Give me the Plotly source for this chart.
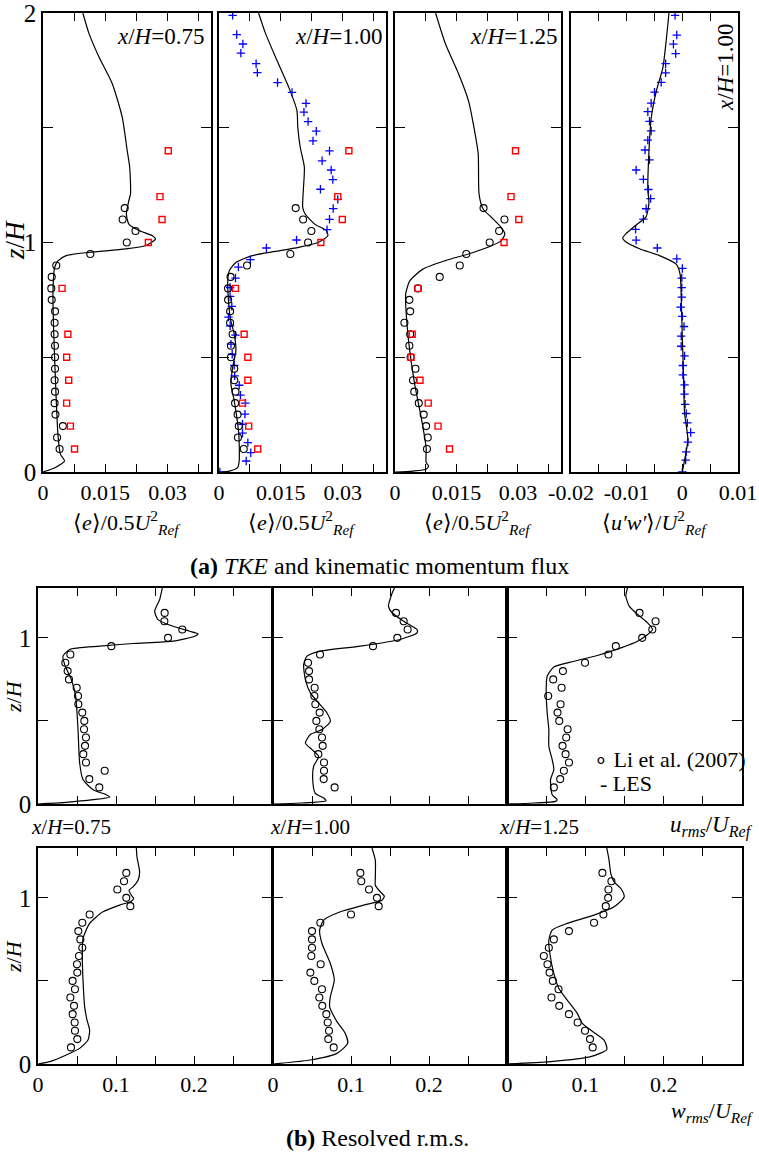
import plotly.graph_objects as go

FONT = "Liberation Serif"

# ---------------- (a) TKE panels: z/H values ----------------
z_circ = [0.10, 0.15, 0.20, 0.25, 0.30, 0.35, 0.40, 0.45, 0.50, 0.55, 0.60,
          0.65, 0.70, 0.75, 0.80, 0.85, 0.90, 0.95, 1.00, 1.05, 1.10, 1.15]
z_sq = [0.10, 0.20, 0.30, 0.40, 0.50, 0.60, 0.80, 1.00, 1.10, 1.20, 1.40]

# x/H = 0.75
tke075_circ = [0.0040, 0.0034, 0.0048, 0.0030, 0.0028, 0.0029, 0.0028, 0.0029, 0.0029, 0.0029, 0.0028,
               0.0028, 0.0029, 0.0021, 0.0020, 0.0021, 0.0032, 0.0114, 0.0202, 0.0223, 0.0192, 0.0197]
tke075_sq = [0.0076, 0.0066, 0.0057, 0.0062, 0.0057, 0.0060, 0.0046, 0.0254, 0.0287, 0.0282, 0.0302]
tke075_les_z = [0.0, 0.02, 0.048, 0.077, 0.164, 0.31, 0.6, 0.775, 0.89, 0.92, 0.943, 0.957, 0.972,
                0.986, 1.015, 1.03, 1.052, 1.08, 1.124, 1.183, 1.212, 1.328, 1.40, 1.546, 1.692,
                1.808, 1.91, 2.0]
tke075_les = [0.0, 0.0030, 0.0052, 0.0042, 0.0036, 0.0032, 0.0026, 0.0024, 0.0028, 0.0036, 0.0056,
              0.0111, 0.0199, 0.0247, 0.0271, 0.0263, 0.0231, 0.0207, 0.0201, 0.0207, 0.0211,
              0.0209, 0.0203, 0.0191, 0.0167, 0.0135, 0.0111, 0.0096]

# x/H = 1.00
tke100_circ = [0.0060, 0.0046, 0.0048, 0.0045, 0.0039, 0.0040, 0.0037, 0.0037, 0.0029, 0.0029, 0.0033,
               0.0027, 0.0027, 0.0022, 0.0022, 0.0028, 0.0068, 0.0173, 0.0216, 0.0224, 0.0204, 0.0186]
tke100_sq = [0.0094, 0.0072, 0.0057, 0.0070, 0.0070, 0.0061, 0.0040, 0.0247, 0.0299, 0.0288, 0.0315]
tke100_cross_z = [0.0, 0.048, 0.084, 0.128, 0.169, 0.208, 0.252, 0.300, 0.335, 0.378, 0.419, 0.465,
                  0.513, 0.557, 0.596, 0.637, 0.675, 0.722, 0.765, 0.804, 0.845, 0.893, 0.925,
                  0.976, 1.011, 1.056, 1.101, 1.148, 1.188, 1.232, 1.274, 1.316, 1.356, 1.399,
                  1.443, 1.485, 1.527, 1.568, 1.606, 1.654, 1.697, 1.740, 1.779, 1.825, 1.865,
                  1.906, 1.990]
tke100_cross = [0.0002, 0.0066, 0.0077, 0.0070, 0.0057, 0.0057, 0.0063, 0.0064, 0.0052, 0.0049,
                0.0038, 0.0037, 0.0032, 0.0029, 0.0040, 0.0027, 0.0023, 0.0031, 0.0027, 0.0027,
                0.0040, 0.0047, 0.0076, 0.0115, 0.0188, 0.0262, 0.0268, 0.0277, 0.0288, 0.0246,
                0.0276, 0.0272, 0.0250, 0.0268, 0.0228, 0.0236, 0.0216, 0.0206, 0.0211, 0.0177,
                0.0142, 0.0093, 0.0090, 0.0053, 0.0058, 0.0043, 0.0033]
tke100_les_z = [0.0, 0.004, 0.019, 0.048, 0.164, 0.31, 0.382, 0.455, 0.528, 0.6, 0.673, 0.819,
                0.877, 0.913, 0.943, 0.961, 0.979, 1.0, 1.03, 1.052, 1.08, 1.124, 1.153, 1.328,
                1.415, 1.503, 1.575, 1.677, 1.808, 1.91, 2.0]
tke100_les = [0.0, 0.0025, 0.0045, 0.0049, 0.0048, 0.0037, 0.0029, 0.0033, 0.0041, 0.0037, 0.0027,
              0.0021, 0.0025, 0.0041, 0.0081, 0.0137, 0.0193, 0.0240, 0.0264, 0.0260, 0.0232,
              0.0209, 0.0203, 0.0207, 0.0197, 0.0191, 0.0189, 0.0169, 0.0137, 0.0113, 0.0096]

# x/H = 1.25
tke125_circ = [0.0078, 0.0080, 0.0076, 0.0070, 0.0058, 0.0047, 0.0044, 0.0050, 0.0038, 0.0035, 0.0037,
               0.0023, 0.0037, 0.0035, 0.0056, 0.0109, 0.0158, 0.0174, 0.0231, 0.0254, 0.0267, 0.0216]
tke125_sq = [0.0133, 0.0105, 0.0081, 0.0061, 0.0039, 0.0042, 0.0056, 0.0266, 0.0302, 0.0283, 0.0294]
tke125_les_z = [0.0, 0.004, 0.012, 0.026, 0.041, 0.106, 0.237, 0.383, 0.528, 0.673, 0.775, 0.833,
                0.884, 0.921, 0.95, 0.979, 1.008, 1.037, 1.066, 1.11, 1.146, 1.212, 1.386, 1.517,
                1.619, 1.735, 1.866, 2.0]
tke125_les = [0.0, 0.0044, 0.0076, 0.0082, 0.0076, 0.0076, 0.0064, 0.0048, 0.0036, 0.0028, 0.0026,
              0.0036, 0.0068, 0.0123, 0.0179, 0.0227, 0.0259, 0.0268, 0.0259, 0.0235, 0.0215,
              0.0205, 0.0203, 0.0191, 0.0179, 0.0155, 0.0123, 0.0099]

# <u'w'> at x/H = 1.00
uw_cross_z = [0.0, 0.052, 0.088, 0.130, 0.172, 0.214, 0.255, 0.295, 0.339, 0.380, 0.423, 0.464,
              0.506, 0.548, 0.592, 0.634, 0.678, 0.718, 0.762, 0.803, 0.845, 0.887, 0.929, 0.976,
              1.010, 1.057, 1.102, 1.147, 1.191, 1.231, 1.275, 1.316, 1.360, 1.403, 1.446, 1.486,
              1.528, 1.570, 1.607, 1.655, 1.698, 1.739, 1.779, 1.823, 1.864, 1.904, 1.990]
uw_cross = [0.0, 0.0006, 0.0007, 0.0010, 0.0015, 0.0009, 0.0007, 0.0005, 0.0004, 0.0004, 0.0001,
            0.0001, 0.0004, -0.0002, -0.0002, 0.0003, 0.0, -0.0003, -0.0001, -0.0001, -0.0001,
            0.0, -0.0010, -0.0045, -0.0083, -0.0084, -0.0070, -0.0065, -0.0057, -0.0061,
            -0.0070, -0.0083, -0.0059, -0.0067, -0.0062, -0.0056, -0.0059, -0.0062, -0.0056,
            -0.0050, -0.0038, -0.0030, -0.0030, -0.0012, -0.0016, -0.0010, -0.0013]
uw_les_z = [0.0, 0.052, 0.14, 0.258, 0.435, 0.582, 0.759, 0.862, 0.906, 0.943, 0.973, 1.002, 1.02,
            1.039, 1.076, 1.113, 1.172, 1.231, 1.393, 1.540, 1.658, 1.761, 1.879, 2.0]
uw_les = [0.0, 0.0004, 0.0010, 0.0004, 0.0002, 0.0, -0.0002, -0.0004, -0.0011, -0.0041, -0.0077,
          -0.0101, -0.0107, -0.0101, -0.0083, -0.0065, -0.0060, -0.0062, -0.0060, -0.0056,
          -0.0047, -0.0035, -0.0029, -0.0024]

# ---------------- (b) resolved r.m.s. ----------------
z_rms = [0.10, 0.15, 0.20, 0.25, 0.30, 0.35, 0.40, 0.45, 0.50, 0.55, 0.60,
         0.65, 0.70, 0.75, 0.80, 0.85, 0.90, 0.95, 1.00, 1.05, 1.10, 1.15]

urms075_exp = [0.0786, 0.0658, 0.0855, 0.0615, 0.0581, 0.0603, 0.0615, 0.0590, 0.0594, 0.0568, 0.0517,
               0.0513, 0.0496, 0.0397, 0.0380, 0.0350, 0.0415, 0.0940, 0.1667, 0.1850, 0.1620, 0.1624]
urms075_les_z = [0.0, 0.01, 0.026, 0.042, 0.056, 0.086, 0.147, 0.247, 0.448, 0.649, 0.749, 0.839,
                 0.890, 0.930, 0.95, 0.966, 0.980, 1.010, 1.024, 1.040, 1.070, 1.110, 1.161, 1.231, 1.30]
urms075_les = [0.0, 0.036, 0.0705, 0.092, 0.0876, 0.0705, 0.0577, 0.0534, 0.0513, 0.0483, 0.0427,
               0.0342, 0.0320, 0.0406, 0.0791, 0.1218, 0.1730, 0.2009, 0.2051, 0.1944, 0.1730,
               0.1538, 0.1496, 0.1560, 0.1594]

urms100_exp = [0.0790, 0.0650, 0.0654, 0.0654, 0.0581, 0.0637, 0.0628, 0.0594, 0.0556, 0.0598, 0.0543,
               0.0530, 0.0534, 0.0462, 0.0462, 0.0449, 0.0603, 0.1282, 0.1594, 0.1726, 0.1675, 0.1577]
urms100_les_z = [0.0, 0.006, 0.02, 0.036, 0.066, 0.147, 0.227, 0.287, 0.327, 0.367, 0.418, 0.448,
                 0.498, 0.548, 0.608, 0.669, 0.749, 0.839, 0.890, 0.920, 0.950, 0.990, 1.030, 1.050,
                 1.10, 1.151, 1.191, 1.231, 1.291, 1.30]
urms100_les = [0.0, 0.035, 0.068, 0.065, 0.054, 0.0509, 0.0521, 0.0585, 0.0500, 0.0415, 0.0479,
               0.0628, 0.0735, 0.0692, 0.0585, 0.0479, 0.0415, 0.0393, 0.0436, 0.0607, 0.1120,
               0.1630, 0.1846, 0.1846, 0.1675, 0.1526, 0.1480, 0.1500, 0.1547, 0.1560]

urms125_exp = [0.0598, 0.0679, 0.0726, 0.0791, 0.0748, 0.0709, 0.0756, 0.0774, 0.0667, 0.0645, 0.0684,
               0.0526, 0.0697, 0.0590, 0.0714, 0.0996, 0.1295, 0.1389, 0.1726, 0.1855, 0.1897, 0.1692]
urms125_les_z = [0.0, 0.006, 0.016, 0.026, 0.056, 0.147, 0.207, 0.267, 0.347, 0.448, 0.548, 0.689,
                 0.769, 0.825, 0.859, 0.894, 0.940, 0.980, 1.020, 1.050, 1.090, 1.141, 1.191, 1.251, 1.30]
urms125_les = [0.0, 0.034, 0.062, 0.064, 0.0577, 0.0556, 0.0598, 0.0577, 0.0534, 0.0534, 0.0513,
               0.0500, 0.0513, 0.0598, 0.0855, 0.1154, 0.1453, 0.1667, 0.1795, 0.1859, 0.1795,
               0.1667, 0.1560, 0.1517, 0.1538]

wrms075_exp = [0.0423, 0.0504, 0.0474, 0.0470, 0.0444, 0.0462, 0.0415, 0.0474, 0.0444, 0.0504, 0.0500,
               0.0526, 0.0568, 0.0543, 0.0517, 0.0568, 0.0662, 0.1184, 0.1132, 0.1017, 0.1103, 0.1132]
wrms075_les_z = [0.0, 0.014, 0.054, 0.094, 0.144, 0.204, 0.265, 0.345, 0.505, 0.645, 0.756, 0.846,
                 0.916, 0.956, 0.980, 0.996, 1.016, 1.046, 1.066, 1.106, 1.156, 1.246, 1.30]
wrms075_les = [0.0, 0.015, 0.0363, 0.0534, 0.0641, 0.0662, 0.0628, 0.0598, 0.0577, 0.0568, 0.0577,
               0.0662, 0.0833, 0.1047, 0.1197, 0.1226, 0.1197, 0.1167, 0.1218, 0.1282, 0.1303,
               0.1269, 0.1261]

wrms100_exp = [0.0778, 0.0709, 0.0718, 0.0701, 0.0684, 0.0632, 0.0594, 0.0628, 0.0530, 0.0479, 0.0611,
               0.0491, 0.0500, 0.0500, 0.0500, 0.0607, 0.1000, 0.1355, 0.1333, 0.1231, 0.1132, 0.1120]
wrms100_les_z = [0.0, 0.024, 0.064, 0.124, 0.184, 0.255, 0.345, 0.405, 0.505, 0.605, 0.725, 0.806,
                 0.866, 0.916, 0.956, 0.986, 1.010, 1.036, 1.076, 1.126, 1.226, 1.30]
wrms100_les = [0.0, 0.0479, 0.0820, 0.0957, 0.0927, 0.0820, 0.0726, 0.0735, 0.0786, 0.0735, 0.0628,
               0.0598, 0.0650, 0.0863, 0.1162, 0.1397, 0.1427, 0.1376, 0.1312, 0.1312, 0.1312, 0.1269]

wrms125_exp = [0.1094, 0.1060, 0.0996, 0.0902, 0.0791, 0.0667, 0.0568, 0.0658, 0.0585, 0.0543, 0.0517,
               0.0470, 0.0534, 0.0598, 0.0791, 0.1111, 0.1231, 0.1261, 0.1291, 0.1295, 0.1333, 0.1218]
wrms125_les_z = [0.0, 0.014, 0.044, 0.088, 0.144, 0.204, 0.244, 0.305, 0.385, 0.455, 0.545, 0.665,
                 0.745, 0.806, 0.846, 0.896, 0.946, 1.006, 1.056, 1.096, 1.146, 1.226, 1.30]
wrms125_les = [0.0, 0.0556, 0.1068, 0.1274, 0.1239, 0.1068, 0.0962, 0.0897, 0.0769, 0.0662, 0.0598,
               0.0547, 0.0534, 0.0577, 0.0769, 0.1111, 0.1368, 0.1496, 0.1453, 0.1368, 0.1325,
               0.1303, 0.1274]

# tick definitions
tke_ticks = [0, 0.0075, 0.015, 0.0225, 0.03, 0.0375]
tke_ticktext = ["0", "", "0.015", "", "0.03", ""]
uw_ticks = [-0.02, -0.015, -0.01, -0.005, 0, 0.005, 0.01]
uw_ticktext = ["-0.02", "", "-0.01", "", "0", "", "0.01"]
z_ticks_a = [0, 0.5, 1, 1.5, 2]
z_ticktext_a = ["0", "", "1", "", "2"]
rms_ticks = [0, 0.05, 0.1, 0.15, 0.2, 0.25, 0.3]
rms_ticktext = ["0", "", "0.1", "", "0.2", "", ""]
z_ticks_b = [0, 0.5, 1]
z_ticktext_b = ["0", "", "1"]

W, H = 759, 1163


def px_x(a, b):
    return [a / W, b / W]


def px_y(top, bottom):
    return [1 - bottom / H, 1 - top / H]


fig = go.Figure()
layout = dict(width=W, height=H, margin=dict(l=0, r=0, t=0, b=0, autoexpand=False),
              paper_bgcolor="white", plot_bgcolor="white", showlegend=False,
              font=dict(family=FONT, color="black"))

panels = []
top_y = px_y(13, 472)
panels.append((px_x(43, 211), top_y, [0, 0.0405], [0, 2], tke_ticks, tke_ticktext, z_ticks_a, z_ticktext_a, True, True, 22, 25))
panels.append((px_x(219, 386), top_y, [0, 0.0405], [0, 2], tke_ticks, tke_ticktext, z_ticks_a, z_ticktext_a, False, True, 22, 25))
panels.append((px_x(395, 561), top_y, [0, 0.0405], [0, 2], tke_ticks, tke_ticktext, z_ticks_a, z_ticktext_a, False, True, 22, 25))
panels.append((px_x(571, 738), top_y, [-0.02, 0.01], [0, 2], uw_ticks, uw_ticktext, z_ticks_a, z_ticktext_a, False, True, 22, 25))
r2 = px_y(588, 804)
r3 = px_y(848, 1064)
bx = [px_x(38, 272), px_x(273, 507), px_x(507, 742)]
for i in range(3):
    panels.append((bx[i], r2, [0, 0.3], [0, 1.3], rms_ticks, rms_ticktext, z_ticks_b, z_ticktext_b, i == 0, False, 22, 25))
for i in range(3):
    panels.append((bx[i], r3, [0, 0.3], [0, 1.3], rms_ticks, rms_ticktext, z_ticks_b, z_ticktext_b, i == 0, True, 22, 25))

for k, (xd, yd, xr, yr, xt, xtt, yt, ytt, ylab, xlab, xfs, yfs) in enumerate(panels):
    n = k + 1
    xs = "" if n == 1 else str(n)
    layout["xaxis" + xs] = dict(domain=xd, range=xr, anchor="y" + xs, showgrid=False, zeroline=False,
                                showline=True, linecolor="black", linewidth=1.5, mirror="ticks",
                                ticks="inside", ticklen=8, tickwidth=1, tickcolor="black",
                                tickvals=xt, ticktext=xtt if xlab else [""] * len(xt),
                                ticklabeloverflow="allow", automargin=False,
                                tickfont=dict(family=FONT, size=xfs, color="black"))
    layout["yaxis" + xs] = dict(domain=yd, range=yr, anchor="x" + xs, showgrid=False, zeroline=False,
                                showline=True, linecolor="black", linewidth=1.5, mirror="ticks",
                                ticks="inside", ticklen=10, tickwidth=1, tickcolor="black",
                                tickvals=yt, ticktext=ytt if ylab else [""] * len(yt),
                                ticklabeloverflow="allow", automargin=False,
                                tickfont=dict(family=FONT, size=yfs, color="black"))


def les(n, x, z):
    xs = "" if n == 1 else str(n)
    fig.add_trace(go.Scatter(x=x, y=z, mode="lines",
                             line=dict(color="black", width=1.2, shape="spline", smoothing=0.6),
                             xaxis="x" + xs, yaxis="y" + xs, name="LES"))


def circ(n, x, z):
    xs = "" if n == 1 else str(n)
    fig.add_trace(go.Scatter(x=x, y=z, mode="markers",
                             marker=dict(symbol="circle-open", size=7, color="black", line=dict(width=1.1)),
                             xaxis="x" + xs, yaxis="y" + xs, name="Li et al. (2007)"))


def sq(n, x, z):
    xs = "" if n == 1 else str(n)
    fig.add_trace(go.Scatter(x=x, y=z, mode="markers",
                             marker=dict(symbol="square-open", size=6, color="#ff0000", line=dict(width=1.4)),
                             xaxis="x" + xs, yaxis="y" + xs, name="squares"))


def cross(n, x, z):
    xs = "" if n == 1 else str(n)
    fig.add_trace(go.Scatter(x=x, y=z, mode="markers",
                             marker=dict(symbol="cross-thin-open", size=6, color="#0000ff",
                                         line=dict(width=1.3, color="#0000ff")),
                             xaxis="x" + xs, yaxis="y" + xs, name="crosses"))


les(1, tke075_les, tke075_les_z); circ(1, tke075_circ, z_circ); sq(1, tke075_sq, z_sq)
les(2, tke100_les, tke100_les_z); cross(2, tke100_cross, tke100_cross_z); circ(2, tke100_circ, z_circ); sq(2, tke100_sq, z_sq)
les(3, tke125_les, tke125_les_z); circ(3, tke125_circ, z_circ); sq(3, tke125_sq, z_sq)
cross(4, uw_cross, uw_cross_z); les(4, uw_les, uw_les_z)

les(5, urms075_les, urms075_les_z); circ(5, urms075_exp, z_rms)
les(6, urms100_les, urms100_les_z); circ(6, urms100_exp, z_rms)
les(7, urms125_les, urms125_les_z); circ(7, urms125_exp, z_rms)
les(8, wrms075_les, wrms075_les_z); circ(8, wrms075_exp, z_rms)
les(9, wrms100_les, wrms100_les_z); circ(9, wrms100_exp, z_rms)
les(10, wrms125_les, wrms125_les_z); circ(10, wrms125_exp, z_rms)

ann = []


def txt(text, x, y, size, xanchor="center", yanchor="middle", angle=0):
    ann.append(dict(text=text, x=x / W, y=1 - y / H, xref="paper", yref="paper", showarrow=False,
                    xanchor=xanchor, yanchor=yanchor, textangle=angle,
                    font=dict(family=FONT, size=size, color="black")))


XH = "<i>x</i>/<i>H</i>="
txt(XH + "0.75", 206, 36, 23, xanchor="right")
txt(XH + "1.00", 384, 36, 23, xanchor="right")
txt(XH + "1.25", 559, 36, 23, xanchor="right")
txt(XH + "1.00", 725, 68, 23, angle=-90)
E = "⟨<i>e</i>⟩/0.5<i>U</i><sup>2</sup><sub><i>Ref</i></sub>"
txt(E, 127, 522, 22)
txt(E, 302, 522, 22)
txt(E, 478, 522, 22)
txt("⟨<i>u′w′</i>⟩/<i>U</i><sup>2</sup><sub><i>Ref</i></sub>", 655, 522, 22)
txt("<i>z</i>/<i>H</i>", 15, 240, 27, angle=-90)
txt("<b>(a)</b> <i>TKE</i> and kinematic momentum flux", 379, 566, 24)
txt("<i>z</i>/<i>H</i>", 13, 697, 22, angle=-90)
txt("<i>z</i>/<i>H</i>", 13, 957, 22, angle=-90)
txt(XH + "0.75", 29, 827, 21, xanchor="left")
txt(XH + "1.00", 268, 827, 21, xanchor="left")
txt(XH + "1.25", 497, 827, 21, xanchor="left")
txt("<i>u<sub>rms</sub></i>/<i>U<sub>Ref</sub></i>", 755, 826, 23, xanchor="right")
txt("<i>w<sub>rms</sub></i>/<i>U<sub>Ref</sub></i>", 756, 1112, 22, xanchor="right")
txt("∘ Li et al. (2007)", 592, 759, 22, xanchor="left")
txt("- LES", 598, 784, 22, xanchor="left")
txt("<b>(b)</b> Resolved r.m.s.", 377, 1138, 24)

layout["annotations"] = ann
fig.update_layout(**layout)
fig.write_html("out.html")
